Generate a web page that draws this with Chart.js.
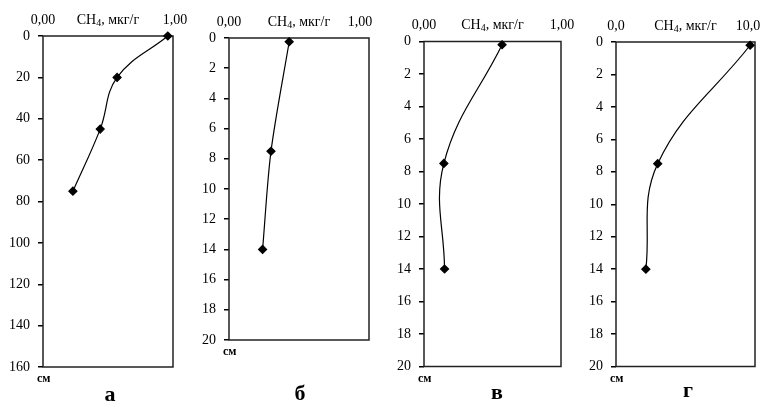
<!DOCTYPE html>
<html>
<head>
<meta charset="utf-8">
<script src="https://cdn.jsdelivr.net/npm/chart.js@4"></script>
<style>
  body { margin: 0; background: #fff; }
  canvas { position: absolute; left: 0; top: 0; }
</style>
</head>
<body>
<canvas id="pA" width="763" height="403"></canvas>
<canvas id="pB" width="763" height="403"></canvas>
<canvas id="pC" width="763" height="403"></canvas>
<canvas id="pD" width="763" height="403"></canvas>
<script>
// depth (cm) and CH4 content for each core
const depthA = [0, 20, 45, 75];
const ch4A = [0.96, 0.57, 0.44, 0.23];
const depthB = [0.25, 7.5, 14];
const ch4B = [0.43, 0.30, 0.24];
const depthC = [0.2, 7.5, 14];
const ch4C = [0.57, 0.145, 0.15];
const depthD = [0.2, 7.5, 14];
const ch4D = [9.65, 3.0, 2.15];

const xMaxA = 1, xMaxB = 1, xMaxC = 1, xMaxD = 10;
const yMaxA = 160, yMaxB = 20, yMaxC = 20, yMaxD = 20;
const yStepA = 20, yStepB = 2, yStepC = 2, yStepD = 2;
const letters = ["а", "б", "в", "г"];

const FONT = "'Liberation Serif', 'Times New Roman', serif";

// frame, top labels, title, "см" and panel letter
const decor = {
  id: "decor",
  beforeDatasetsDraw(chart) {
    const { ctx, chartArea: a } = chart;
    ctx.save();
    ctx.strokeStyle = "#222";
    ctx.lineWidth = 1.5;
    ctx.strokeRect(a.left, a.top, a.right - a.left, a.bottom - a.top);
    ctx.restore();
  },
  afterDraw(chart, args, opts) {
    const { ctx, chartArea: a } = chart;
    const xs = chart.scales.x;
    ctx.save();
    ctx.fillStyle = "#000";
    ctx.textBaseline = "middle";
    const y = a.top - 16;
    // min / max labels of the value axis
    ctx.font = "14px " + FONT;
    ctx.textAlign = "center";
    const fmt = v => v.toFixed(opts.digits).replace(".", ",");
    ctx.fillText(fmt(xs.min), xs.getPixelForValue(xs.min), y);
    ctx.fillText(fmt(xs.max), xs.getPixelForValue(xs.max) + opts.maxShift, y);
    // title CH4, мкг/г
    const big = "14px " + FONT, sub = "10px " + FONT;
    ctx.font = big;
    const w1 = ctx.measureText("CH").width;
    const w3 = ctx.measureText(", мкг/г").width;
    ctx.font = sub;
    const w2 = ctx.measureText("4").width;
    let x = (a.left + a.right) / 2 - (w1 + w2 + w3) / 2;
    ctx.textAlign = "left";
    ctx.font = big;
    ctx.fillText("CH", x, y);
    ctx.font = sub;
    ctx.fillText("4", x + w1, y + 3);
    ctx.font = big;
    ctx.fillText(", мкг/г", x + w1 + w2, y);
    // см
    ctx.font = "bold 12px " + FONT;
    ctx.fillText("см", a.left - 6, a.bottom + 12);
    // letter
    ctx.font = "bold 22px " + FONT;
    ctx.textAlign = "center";
    ctx.fillText(opts.letter, opts.lx, opts.ly);
    ctx.restore();
  }
};

function makePanel(id, depth, ch4, xMax, yMax, yStep, digits, area, maxShift, letter, lx, ly, tension) {
  const [L, T, R, B] = area;
  new Chart(document.getElementById(id), {
    type: "scatter",
    data: {
      datasets: [{
        data: depth.map((d, i) => ({ x: ch4[i], y: d })),
        showLine: true,
        borderColor: "#000",
        borderWidth: 1.2,
        backgroundColor: "#000",
        pointStyle: "rectRot",
        pointRadius: 4,
        tension: tension,
        clip: false
      }]
    },
    options: {
      responsive: false,
      animation: false,
      layout: { padding: { left: L - 40, top: 0, right: 763 - R, bottom: 403 - B } },
      plugins: {
        legend: { display: false },
        tooltip: { enabled: false },
        decor: { letter, lx, ly, digits, maxShift }
      },
      scales: {
        x: {
          type: "linear",
          position: "top",
          min: 0,
          max: xMax,
          afterFit(s) { s.height = T; s.paddingLeft = 0; s.paddingRight = 0; },
          grid: { display: false },
          border: { display: false },
          ticks: { display: false }
        },
        y: {
          type: "linear",
          reverse: true,
          min: 0,
          max: yMax,
          afterFit(s) { s.width = 40; },
          grid: { drawOnChartArea: false, drawTicks: true, tickLength: 5, color: "#000", lineWidth: 1.5 },
          border: { display: false },
          ticks: {
            stepSize: yStep,
            color: "#000",
            padding: 8,
            font: { family: FONT, size: 14 }
          }
        }
      }
    },
    plugins: [decor]
  });
}

makePanel("pA", depthA, ch4A, xMaxA, yMaxA, yStepA, 2, [43, 36, 173, 367], 2, letters[0], 110, 395, 0.4);
makePanel("pB", depthB, ch4B, xMaxB, yMaxB, yStepB, 2, [229, 38, 369, 340], -9, letters[1], 300, 394, 0.3);
makePanel("pC", depthC, ch4C, xMaxC, yMaxC, yStepC, 2, [424, 41.5, 561, 366.5], 1, letters[2], 497, 393, 0.4);
makePanel("pD", depthD, ch4D, xMaxD, yMaxD, yStepD, 1, [616, 42, 755, 366.5], -7, letters[3], 688, 391, 0.4);
</script>
</body>
</html>
